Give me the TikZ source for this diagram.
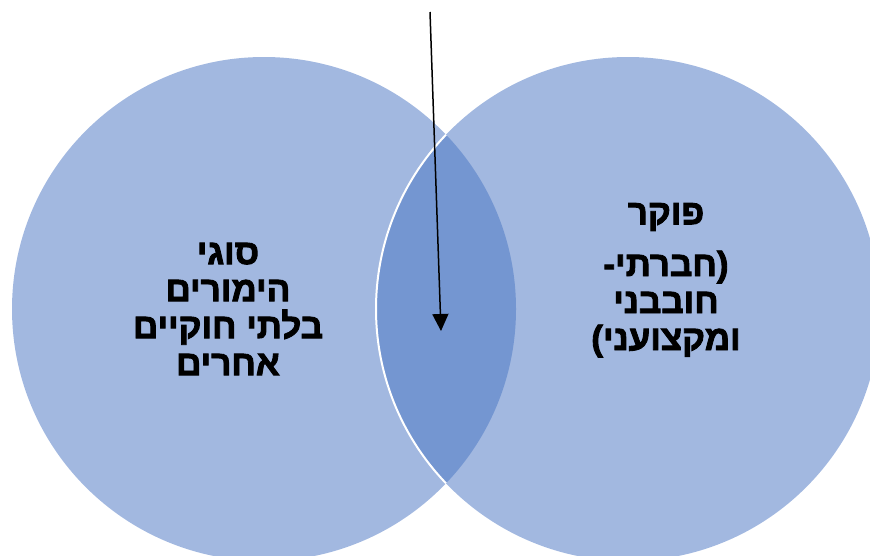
\documentclass[tikz,border=0pt]{standalone}
\usepackage{fontspec}
\newfontfamily\hebfont[Script=Hebrew,FakeBold=2.5]{Liberation Sans Bold}
\TeXXeTstate=1
\usetikzlibrary{arrows.meta}
\definecolor{lightblue}{RGB}{162,184,224}
\definecolor{darkblue}{RGB}{116,150,209}
\tikzset{
  venn/.style={circle, minimum size=504pt, inner sep=0pt, fill=lightblue},
  hebtext/.style={font=\hebfont\fontsize{35}{37}\selectfont, align=center, text=black, inner sep=0pt},
  pointer/.style={line width=1.5pt, -{Triangle[width=16pt,length=17pt]}}
}
\begin{document}
\begin{tikzpicture}[x=1pt,y=-1pt]
\useasboundingbox (0,0) rectangle (870,555);
\begin{scope}
  \clip (0,0) rectangle (870,555);
  \node[venn] (L) at (264,309) {};
  \node[venn] (R) at (628,309) {};
  \begin{scope}
    \clip (264,309) circle (252);
    \fill[darkblue] (628,309) circle (252);
    \draw[white, line width=2pt] (628,309) circle (252);
  \end{scope}
\end{scope}
\node[hebtext] (lt) at (228,309) {\beginR סוגי\endR\\ \beginR הימורים\endR\\ \beginR בלתי חוקיים\endR\\ \beginR אחרים\endR};
\node[hebtext] (rt1) at (666,217) {\beginR פוקר\endR};
\node[hebtext] (rt2) at (666,304) {\beginR (חברתי-\endR\\ \beginR חובבני\endR\\ \beginR ומקצועני)\endR};
\coordinate (top) at (430,12);
\coordinate (tip) at (441,331);
\draw[pointer] (top) -- (tip);
\end{tikzpicture}
\end{document}
